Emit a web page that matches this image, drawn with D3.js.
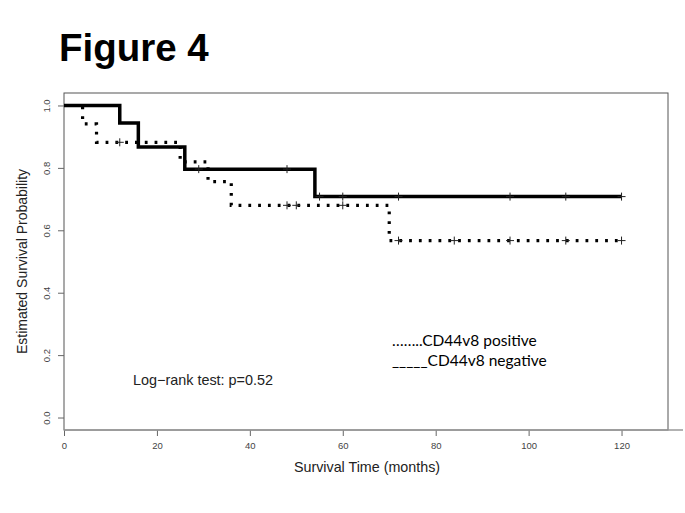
<!DOCTYPE html>
<html>
<head>
<meta charset="utf-8">
<script src="https://cdn.jsdelivr.net/npm/d3@7"></script>
<style>
  body { margin: 0; background: #fff; }
  svg { display: block; }
</style>
</head>
<body>
<div id="chart"></div>
<script>
// Kaplan-Meier steps
var negTimes = [0, 12, 16, 26, 54];
var negSurv = [1.0, 0.944, 0.867, 0.796, 0.708];
var negCensor = [29, 48, 55, 60, 72, 96, 108, 120];

var posTimes = [0, 4, 7, 25, 31, 36, 70];
var posSurv = [1.0, 0.941, 0.882, 0.819, 0.756, 0.680, 0.567];
var posCensor = [12, 48, 50, 60, 72, 84, 96, 108, 120];

var endTime = 120;
var xTicks = [0, 20, 40, 60, 80, 100, 120];
var yTicks = [0.0, 0.2, 0.4, 0.6, 0.8, 1.0];

var width = 685,
    height = 513;

var box = {left: 64, top: 93, right: 668, bottom: 430};

var svg = d3.select("#chart").append("svg")
    .attr("width", width)
    .attr("height", height);

var x = d3.scaleLinear().domain([0, 130]).range([box.left, box.right]);
var y = d3.scaleLinear().domain([-0.04, 1.04]).range([box.bottom, box.top]);

// title
svg.append("text")
    .attr("x", 59)
    .attr("y", 61)
    .style("font", "bold 38.5px 'Liberation Sans', Arial, sans-serif")
    .text("Figure 4");

// plot box
svg.append("rect")
    .attr("x", box.left)
    .attr("y", box.top)
    .attr("width", box.right - box.left)
    .attr("height", box.bottom - box.top)
    .attr("fill", "none")
    .attr("stroke", "#555")
    .attr("stroke-width", 1);

// x axis
var xAxis = svg.append("g")
    .attr("transform", "translate(0," + box.bottom + ")")
    .call(d3.axisBottom(x).tickValues(xTicks).tickSize(6).tickPadding(6)
        .tickFormat(d3.format("d")));
xAxis.select(".domain").remove();
xAxis.append("line")
    .attr("x1", box.left).attr("x2", 683)
    .attr("stroke", "#999").attr("stroke-width", 1.5);
xAxis.selectAll(".tick line").attr("stroke", "#666");
xAxis.selectAll(".tick text")
    .attr("fill", "#444")
    .style("font", "9.5px 'Liberation Sans', Arial, sans-serif");

// y axis
var yAxis = svg.append("g")
    .attr("transform", "translate(" + box.left + ",0)")
    .call(d3.axisLeft(y).tickValues(yTicks).tickSize(6)
        .tickFormat(d3.format(".1f")));
yAxis.select(".domain").remove();
yAxis.selectAll(".tick line").attr("stroke", "#666");
yAxis.selectAll(".tick text")
    .attr("fill", "#444")
    .attr("x", 0).attr("dy", 0)
    .attr("text-anchor", "middle")
    .attr("transform", "translate(-14,0) rotate(-90)")
    .style("font", "9.5px 'Liberation Sans', Arial, sans-serif");

// axis titles
svg.append("text")
    .attr("x", 367)
    .attr("y", 472)
    .attr("text-anchor", "middle")
    .attr("fill", "#222")
    .style("font", "14.3px 'Liberation Sans', Arial, sans-serif")
    .text("Survival Time (months)");

svg.append("text")
    .attr("transform", "translate(27," + ((box.top + box.bottom) / 2) + ") rotate(-90)")
    .attr("text-anchor", "middle")
    .attr("fill", "#222")
    .style("font", "14px 'Liberation Sans', Arial, sans-serif")
    .text("Estimated Survival Probability");

// step curve
function stepPoints(times, surv) {
    var pts = times.map(function (t, i) { return [t, surv[i]]; });
    pts.push([endTime, surv[surv.length - 1]]);
    return pts;
}

function survAt(times, surv, t) {
    var s = surv[0];
    for (var i = 0; i < times.length; i++) {
        if (times[i] <= t) s = surv[i];
    }
    return s;
}

var line = d3.line()
    .x(function (d) { return x(d[0]); })
    .y(function (d) { return y(d[1]); })
    .curve(d3.curveStepAfter);

svg.append("path")
    .datum(stepPoints(posTimes, posSurv))
    .attr("d", line)
    .attr("fill", "none")
    .attr("stroke", "#000")
    .attr("stroke-width", 3.2)
    .attr("stroke-dasharray", "2.8 7");

svg.append("path")
    .datum(stepPoints(negTimes, negSurv))
    .attr("d", line)
    .attr("fill", "none")
    .attr("stroke", "#000")
    .attr("stroke-width", 3.5);

// censor marks
function drawCensor(times, surv, cens) {
    var g = svg.append("g").attr("stroke", "#222").attr("stroke-width", 1);
    cens.forEach(function (t) {
        var cx = x(t), cy = y(survAt(times, surv, t));
        g.append("line").attr("x1", cx - 4).attr("x2", cx + 4).attr("y1", cy).attr("y2", cy);
        g.append("line").attr("x1", cx).attr("x2", cx).attr("y1", cy - 4).attr("y2", cy + 4);
    });
}
drawCensor(posTimes, posSurv, posCensor);
drawCensor(negTimes, negSurv, negCensor);

// annotations
svg.append("text")
    .attr("x", 133)
    .attr("y", 385)
    .attr("fill", "#222")
    .style("font", "14.4px 'Liberation Sans', Arial, sans-serif")
    .text("Log\u2212rank test: p=0.52");

var legendFont = "15.5px Lato, 'Open Sans', sans-serif";
svg.append("text")
    .attr("x", 392)
    .attr("y", 346)
    .style("font", legendFont)
    .text("\u2026\u2026..CD44v8 positive");
svg.append("text")
    .attr("x", 392)
    .attr("y", 366)
    .style("font", legendFont)
    .text("_____CD44v8 negative");
</script>
</body>
</html>
